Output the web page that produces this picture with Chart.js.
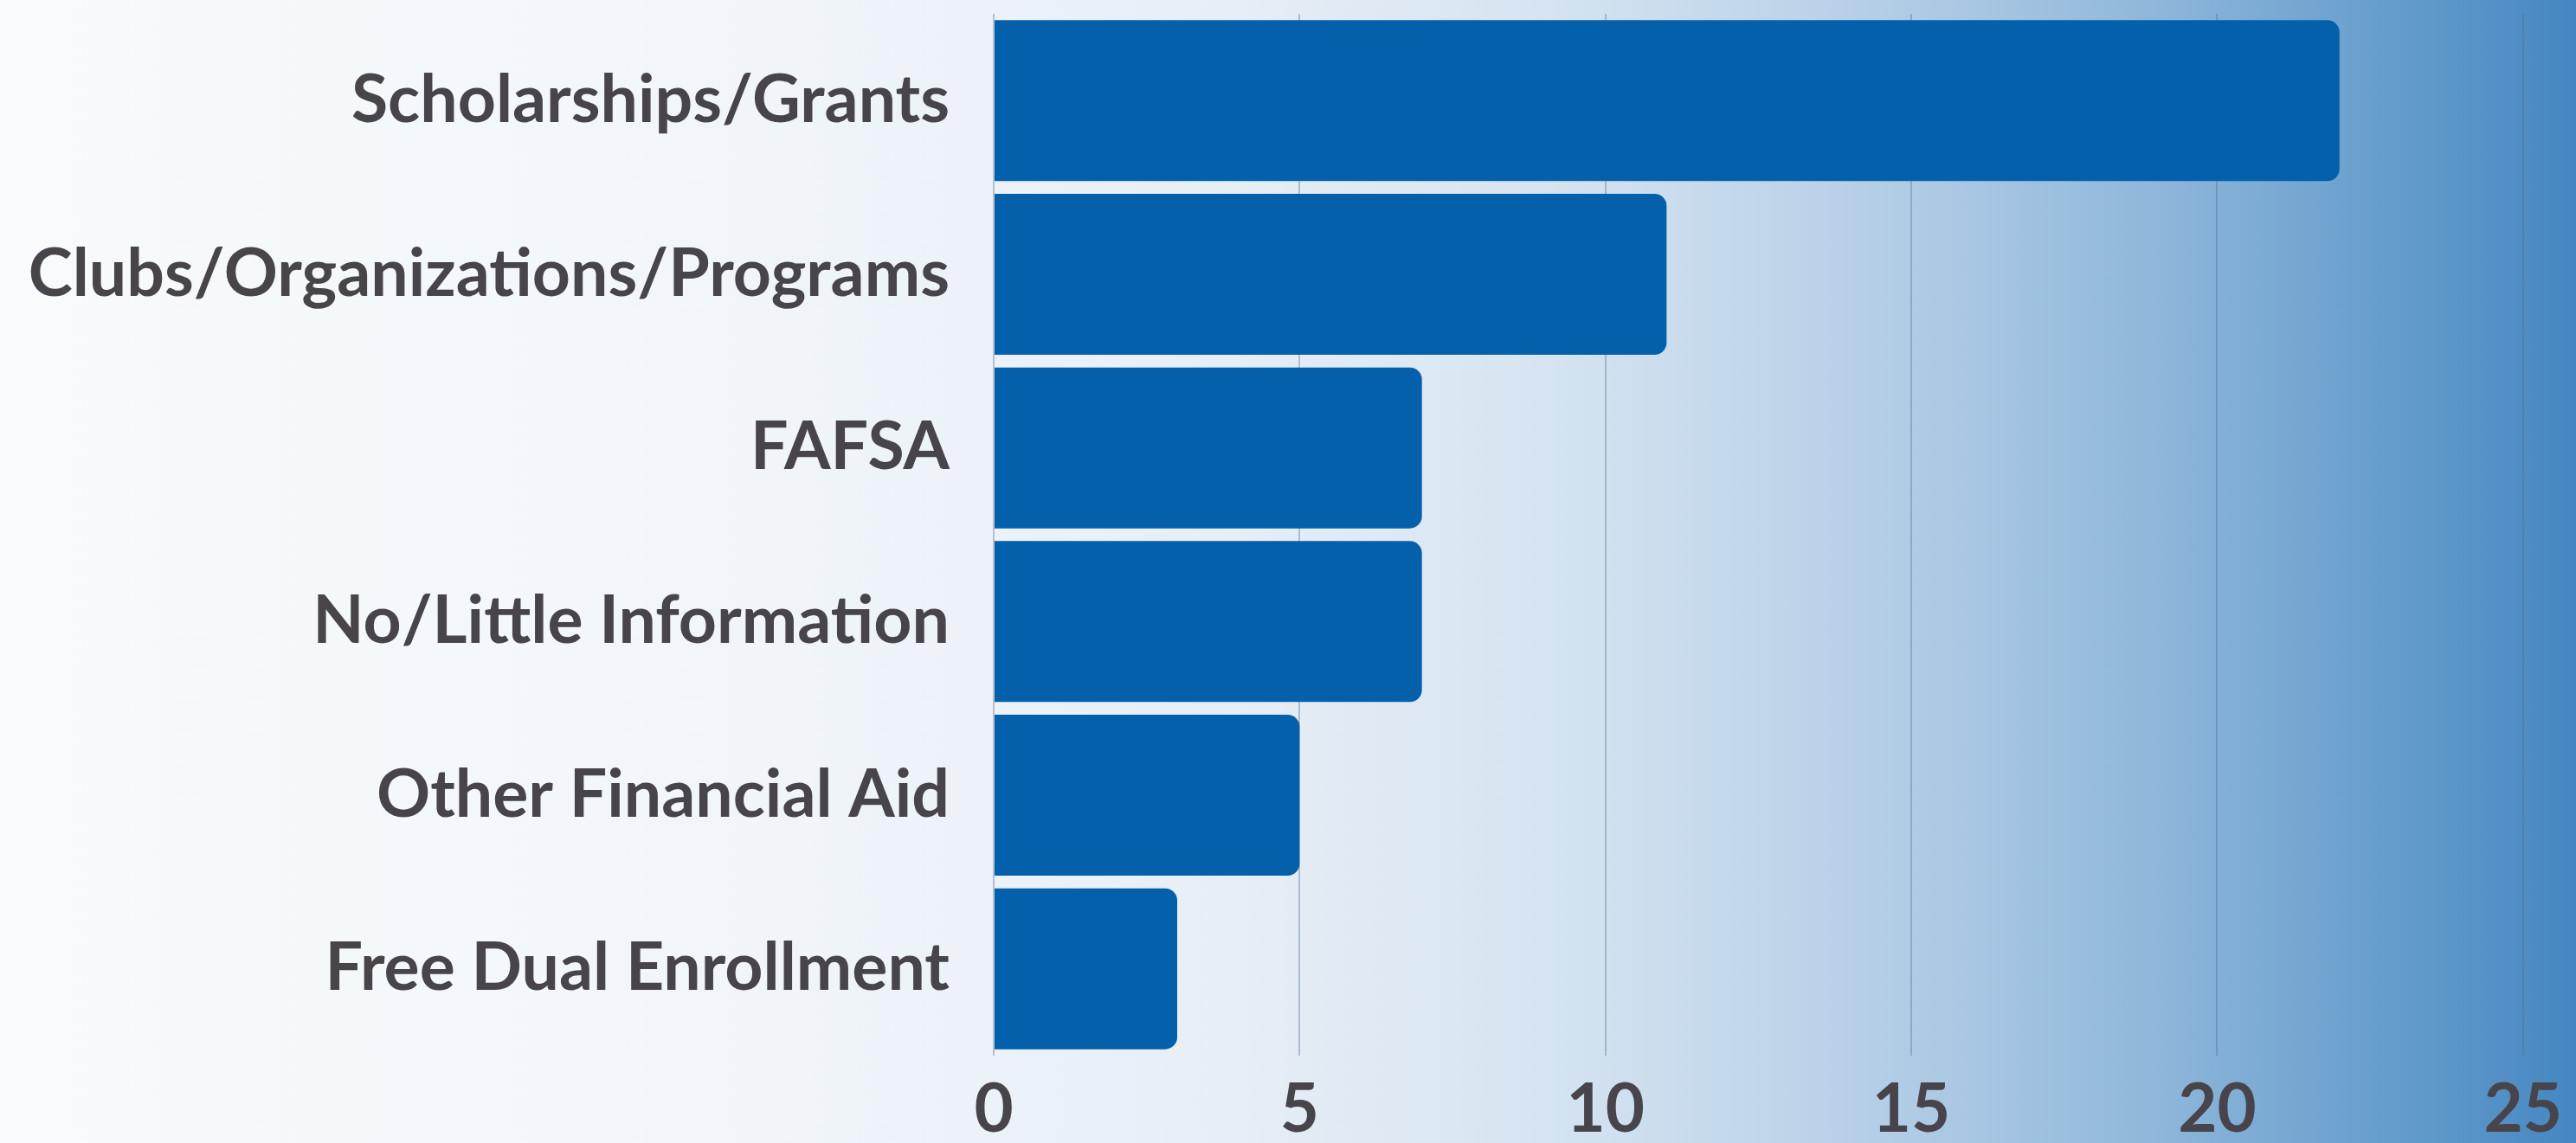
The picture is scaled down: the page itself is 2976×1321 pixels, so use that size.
<!DOCTYPE html>
<html>
<head>
<meta charset="utf-8">
<script src="https://cdn.jsdelivr.net/npm/chart.js@4"></script>
<style>
  html, body {
    margin: 0;
    padding: 0;
  }
  body {
    width: 2976px;
    height: 1321px;
    overflow: hidden;
    background: linear-gradient(to right,
      #f8fafc 0%, #f1f5fa 30%, #e6eef6 48%, #d6e4f1 60%,
      #c2d7eb 68%, #aac8e3 76%, #8db6da 84%, #6ea2cf 91%, #4587c2 100%);
  }
  #wrap {
    width: 2976px;
    height: 1321px;
  }
</style>
</head>
<body>
<div id="wrap"><canvas id="graph" width="2976" height="1321"></canvas></div>
<script>
  const categories = [
    'Scholarships/Grants',
    'Clubs/Organizations/Programs',
    'FAFSA',
    'No/Little Information',
    'Other Financial Aid',
    'Free Dual Enrollment'
  ];
  const responses = [22, 11, 7, 7, 5, 3];
  const xTicks = [0, 5, 10, 15, 20, 25];

  const textColor = '#48444b';

  var ctx = document.getElementById('graph').getContext('2d');
  var barChart = new Chart(ctx, {
    type: 'bar',
    data: {
      labels: categories,
      datasets: [{
        data: responses,
        backgroundColor: '#0460aa',
        borderWidth: 0,
        borderSkipped: false,
        borderRadius: { topLeft: 0, bottomLeft: 0, topRight: 14, bottomRight: 14 },
        categoryPercentage: 1,
        barPercentage: 0.927
      }]
    },
    options: {
      indexAxis: 'y',
      responsive: false,
      animation: false,
      layout: {
        padding: { top: 16, right: 61, left: 0, bottom: 0 }
      },
      plugins: {
        legend: { display: false },
        tooltip: { enabled: false }
      },
      scales: {
        x: {
          min: 0,
          max: 25,
          afterBuildTicks: (scale) => {
            scale.ticks = xTicks.map(v => ({ value: v }));
          },
          afterFit: (scale) => {
            scale.height = 101;
          },
          grid: {
            color: 'rgba(90, 110, 135, 0.38)',
            lineWidth: 2,
            drawTicks: false
          },
          border: { display: false },
          ticks: {
            padding: 16,
            color: textColor,
            font: { family: 'Lato', size: 78, weight: 'bold' }
          }
        },
        y: {
          afterFit: (scale) => {
            // keep the plot edges where the layout padding puts them
            scale.width = 1148;
            scale.paddingTop = 0;
            scale.paddingBottom = 0;
          },
          grid: { display: false, drawTicks: false },
          border: { display: false },
          ticks: {
            padding: 51,
            color: textColor,
            font: { family: 'Lato', size: 77, weight: 'bold' }
          }
        }
      }
    }
  });
</script>
</body>
</html>
